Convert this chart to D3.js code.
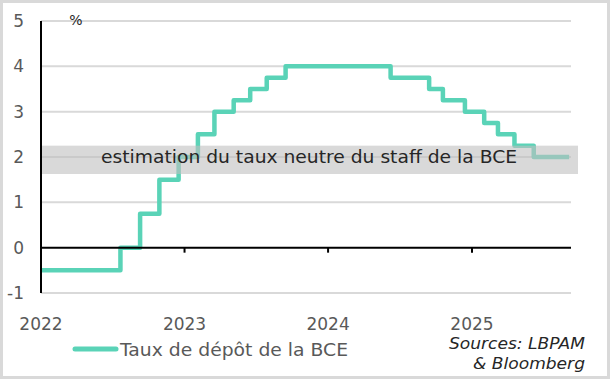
<!DOCTYPE html>
<html><head><meta charset="utf-8">
<script src="https://cdn.jsdelivr.net/npm/d3@7"></script>
<style>body{margin:0;background:#fff}svg{display:block}text{font-family:"DejaVu Sans",sans-serif}</style>
</head><body><svg id="c" width="610" height="379"></svg>
<script>
const stepDates = ["2022-01-01","2022-07-22","2022-09-10","2022-10-29","2022-12-17","2023-02-04","2023-03-18","2023-05-06","2023-06-17","2023-07-29","2023-09-15","2024-06-08","2024-09-14","2024-10-19","2024-12-14","2025-02-01","2025-03-08","2025-04-19","2025-06-07","2025-09-05"];
const depositRate = [-0.5,0,0.75,1.5,2,2.5,3,3.25,3.5,3.75,4,3.75,3.5,3.25,3,2.75,2.5,2.25,2,2];
const yTicks = [-1,0,1,2,3,4,5];
const yearTicks = ["2022","2023","2024","2025"];
const neutralBand = [1.625, 2.25];
const bandLabel = "estimation du taux neutre du staff de la BCE";
const seriesName = "Taux de dépôt de la BCE";
const sourceLines = ["Sources: LBPAM","& Bloomberg"];

const svg = d3.select("#c");
const parse = d3.timeParse("%Y-%m-%d");
const data = stepDates.map((d,i)=>({date:parse(d), v:depositRate[i]}));
const x = d3.scaleTime().domain([parse("2022-01-01"), parse("2025-01-01")]).range([41,472]);
const y = d3.scaleLinear().domain([-1,5]).range([293,21]);
const xRight = 571;

svg.append("rect").attr("x",1.5).attr("y",1.5).attr("width",607).attr("height",376)
  .attr("fill","none").attr("stroke","#d9d9d9").attr("stroke-width",3);

// gridlines
svg.append("g").selectAll("line").data(yTicks.filter(t=>t!==0)).join("line")
  .attr("x1",41).attr("x2",xRight).attr("y1",d=>y(d)).attr("y2",d=>y(d))
  .attr("stroke","#d9d9d9").attr("stroke-width",2);

// line
const line = d3.line().x(d=>x(d.date)).y(d=>y(d.v)).curve(d3.curveStepAfter);
svg.append("path").datum(data).attr("d",line).attr("fill","none")
  .attr("stroke","#5ad3b7").attr("stroke-width",4.5).attr("stroke-linejoin","round");

// band
svg.append("rect").attr("x",41).attr("width",578-41)
  .attr("y",y(neutralBand[1])).attr("height",y(neutralBand[0])-y(neutralBand[1]))
  .attr("fill","#bfbfbf").attr("fill-opacity",0.6);
svg.append("text").attr("x",101).attr("y",y(2)+6)
  .attr("font-size",18).attr("textLength",416).attr("lengthAdjust","spacingAndGlyphs")
  .attr("fill","#262626").text(bandLabel);

// zero axis
svg.append("line").attr("x1",41).attr("x2",xRight).attr("y1",y(0)).attr("y2",y(0))
  .attr("stroke","#000").attr("stroke-width",2);
svg.append("g").selectAll("line").data(yearTicks.slice(1)).join("line")
  .attr("x1",d=>x(parse(d+"-01-01"))).attr("x2",d=>x(parse(d+"-01-01")))
  .attr("y1",y(0)).attr("y2",y(0)+5).attr("stroke","#000").attr("stroke-width",2);
// y axis
svg.append("line").attr("x1",41).attr("x2",41).attr("y1",y(5)).attr("y2",y(-1))
  .attr("stroke","#000").attr("stroke-width",2);

svg.append("g").selectAll("text").data(yTicks).join("text")
  .attr("x",24).attr("y",d=>y(d)).attr("dy","0.35em").attr("text-anchor","end")
  .attr("font-size",17).attr("fill","#595959").text(d=>d);
svg.append("text").attr("x",76).attr("y",y(5)+4).attr("text-anchor","middle")
  .attr("font-size",14).attr("fill","#262626").text("%");

svg.append("g").selectAll("text").data(yearTicks).join("text")
  .attr("x",d=>x(parse(d+"-01-01"))).attr("y",330).attr("text-anchor","middle")
  .attr("font-size",17).attr("fill","#595959").text(d=>d);

// legend
svg.append("line").attr("x1",75).attr("x2",116).attr("y1",349).attr("y2",349)
  .attr("stroke","#5ad3b7").attr("stroke-width",5).attr("stroke-linecap","round");
svg.append("text").attr("x",120).attr("y",356).attr("font-size",18)
  .attr("textLength",228).attr("lengthAdjust","spacingAndGlyphs")
  .attr("fill","#595959").text(seriesName);
const srcLen = [136,112];
svg.append("g").selectAll("text").data(sourceLines).join("text")
  .attr("x",(d,i)=>585-srcLen[i]).attr("y",(d,i)=>349+i*20)
  .attr("textLength",(d,i)=>srcLen[i]).attr("lengthAdjust","spacingAndGlyphs")
  .attr("font-size",16).attr("font-style","italic").attr("fill","#262626").text(d=>d);
</script></body></html>
